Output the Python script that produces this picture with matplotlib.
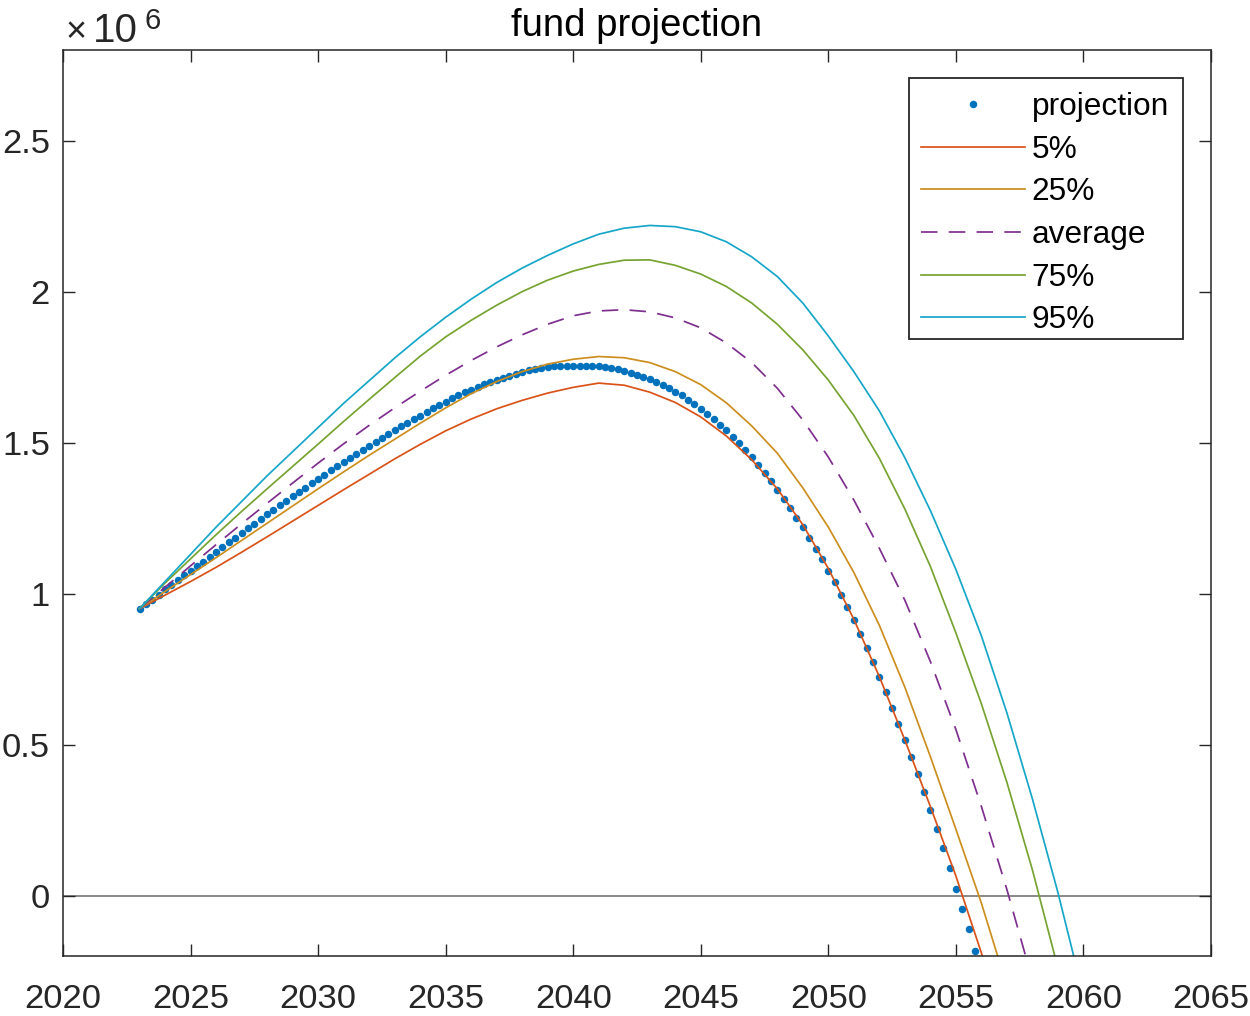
import numpy as np
import matplotlib
matplotlib.use("Agg")
import matplotlib.pyplot as plt
from matplotlib.ticker import FuncFormatter
from matplotlib.patches import Rectangle

plt.rcParams['font.family'] = ['Liberation Sans', 'DejaVu Sans']

SCALE = 1e6
# projection: quarterly values (millions), starting 2023.0
proj_start = 2023.0
proj_step = 0.25
projection = [
    0.950, 0.964, 0.980, 0.997, 1.014, 1.030, 1.045, 1.060, 1.075, 1.090,
    1.106, 1.121, 1.138, 1.154, 1.170, 1.185, 1.201, 1.216, 1.232, 1.247,
    1.262, 1.277, 1.293, 1.307, 1.322, 1.336, 1.350, 1.365, 1.379, 1.393,
    1.408, 1.422, 1.437, 1.450, 1.463, 1.476, 1.490, 1.503, 1.516, 1.528,
    1.541, 1.554, 1.566, 1.578, 1.589, 1.602, 1.613, 1.624, 1.636, 1.647,
    1.657, 1.667, 1.675, 1.684, 1.693, 1.701, 1.708, 1.715, 1.722, 1.728,
    1.734, 1.739, 1.744, 1.747, 1.750, 1.752, 1.754, 1.755, 1.755, 1.755,
    1.755, 1.754, 1.752, 1.750, 1.747, 1.743, 1.737, 1.732, 1.724, 1.716,
    1.709, 1.700, 1.691, 1.680, 1.669, 1.657, 1.642, 1.628, 1.611, 1.596,
    1.578, 1.559, 1.541, 1.520, 1.499, 1.476, 1.451, 1.426, 1.400, 1.372,
    1.343, 1.314, 1.283, 1.250, 1.219, 1.184, 1.149, 1.113, 1.075, 1.037,
    0.997, 0.956, 0.912, 0.867, 0.820, 0.773, 0.724, 0.673, 0.621, 0.568,
    0.514, 0.458, 0.401, 0.342, 0.282, 0.220, 0.157, 0.091, 0.022, -0.044,
    -0.110, -0.182,
]

# percentile / average lines: annual values (millions), starting 2023
line_start = 2023
p5 = [0.95, 0.995, 1.04, 1.087, 1.137, 1.188, 1.24, 1.292, 1.344, 1.395,
      1.446, 1.494, 1.539, 1.578, 1.612, 1.64, 1.664, 1.683, 1.697, 1.69,
      1.667, 1.633, 1.585, 1.522, 1.443, 1.347, 1.228, 1.083, 0.915, 0.725,
      0.515, 0.295, 0.065, -0.19, -0.47]
p25 = [0.95, 1.007, 1.063, 1.119, 1.176, 1.233, 1.29, 1.347, 1.403, 1.458,
       1.511, 1.564, 1.615, 1.662, 1.702, 1.735, 1.76, 1.776, 1.785, 1.781,
       1.765, 1.735, 1.692, 1.632, 1.555, 1.465, 1.35, 1.22, 1.07, 0.895,
       0.69, 0.46, 0.22, -0.025, -0.30]
average = [0.95, 1.021, 1.092, 1.162, 1.231, 1.299, 1.366, 1.432, 1.496, 1.557,
           1.615, 1.67, 1.723, 1.772, 1.817, 1.857, 1.892, 1.92, 1.936, 1.940,
           1.933, 1.913, 1.88, 1.83, 1.765, 1.68, 1.575, 1.452, 1.31, 1.15,
           0.978, 0.775, 0.55, 0.295, 0.02, -0.28]
p75 = [0.95, 1.035, 1.115, 1.195, 1.272, 1.347, 1.421, 1.495, 1.57, 1.643,
       1.715, 1.786, 1.85, 1.905, 1.955, 2.0, 2.038, 2.068, 2.09, 2.104,
       2.105, 2.087, 2.058, 2.017, 1.962, 1.892, 1.807, 1.707, 1.59, 1.448,
       1.28, 1.09, 0.87, 0.635, 0.375, 0.085, -0.24]
p95 = [0.95, 1.04, 1.13, 1.22, 1.305, 1.39, 1.47, 1.55, 1.63, 1.705,
       1.78, 1.85, 1.915, 1.975, 2.03, 2.078, 2.12, 2.158, 2.19, 2.21,
       2.219, 2.215, 2.198, 2.165, 2.115, 2.05, 1.962, 1.853, 1.735, 1.605,
       1.45, 1.275, 1.08, 0.86, 0.605, 0.32, 0.01, -0.33]

labels = ['projection', '5%', '25%', 'average', '75%', '95%']
title = 'fund projection'
xticks = [2020, 2025, 2030, 2035, 2040, 2045, 2050, 2055, 2060, 2065]
yticks = [0, 0.5, 1, 1.5, 2, 2.5]

W, H = 1250, 1016
fig = plt.figure(figsize=(W / 100, H / 100), dpi=100)
ax = fig.add_axes([63 / W, 60 / H, (1211 - 63) / W, (956 - 50) / H])

axcol = '#262626'
px = proj_start + proj_step * np.arange(len(projection))
ax.plot(px, np.array(projection) * SCALE, linestyle='none', marker='o',
        markersize=5.4, markeredgewidth=0, color='#0072BD', label=labels[0])

series = [p5, p25, average, p75, p95]
colors = ['#D95319', '#CC8E1F', '#7E2F8E', '#77A332', '#17A6C8']
styles = ['-', '-', (0, (9.5, 6.5)), '-', '-']
for s, c, ls, lab in zip(series, colors, styles, labels[1:]):
    yrs = line_start + np.arange(len(s))
    ax.plot(yrs, np.array(s) * SCALE, color=c, linestyle=ls, linewidth=1.25,
            label=lab)

ax.axhline(0, color='#808080', linewidth=1.3, zorder=1.5)

ax.set_xlim(2020, 2065)
ax.set_ylim(-0.2 * SCALE, 2.8 * SCALE)
ax.set_xticks(xticks)
ax.set_yticks([v * SCALE for v in yticks])
ax.yaxis.set_major_formatter(FuncFormatter(lambda v, p: f'{v / SCALE:g}'))

for sp in ax.spines.values():
    sp.set_color(axcol)
    sp.set_linewidth(1.1)
ax.tick_params(direction='in', length=8.5, width=1.0, colors=axcol,
               labelsize=24.8, top=True, right=True)
ax.tick_params(axis='x', pad=20)
ax.tick_params(axis='y', pad=9.5)
for lab in ax.get_xticklabels() + ax.get_yticklabels():
    lab.set_color('#262626')

ax.set_title(title, fontsize=27.5, color='black', pad=10)

# exponent label (x10^6) above the top-left corner
fig.text(66 / W, 1 - 42 / H, '\u00d7', fontsize=26, color=axcol,
         ha='left', va='baseline')
fig.text(93 / W, 1 - 42 / H, '10', fontsize=29, color=axcol,
         ha='left', va='baseline')
fig.text(145 / W, 1 - 29 / H, '6', fontsize=21, color=axcol,
         ha='left', va='baseline')

leg = ax.legend(loc='upper right', fontsize=22.8, frameon=False,
                handlelength=3.3, handletextpad=0.2, labelspacing=0.4,
                borderaxespad=0.9, borderpad=0.43, numpoints=1,
                markerscale=1.0)
leg.set_zorder(6)
# legend box
box = Rectangle((909 / W, 1 - 339 / H), (1183 - 909) / W, (339 - 78) / H,
                transform=fig.transFigure, facecolor='white',
                edgecolor=axcol, linewidth=1.3, zorder=5, clip_on=False)
ax.add_patch(box)

fig.savefig('out.png', dpi=100)
